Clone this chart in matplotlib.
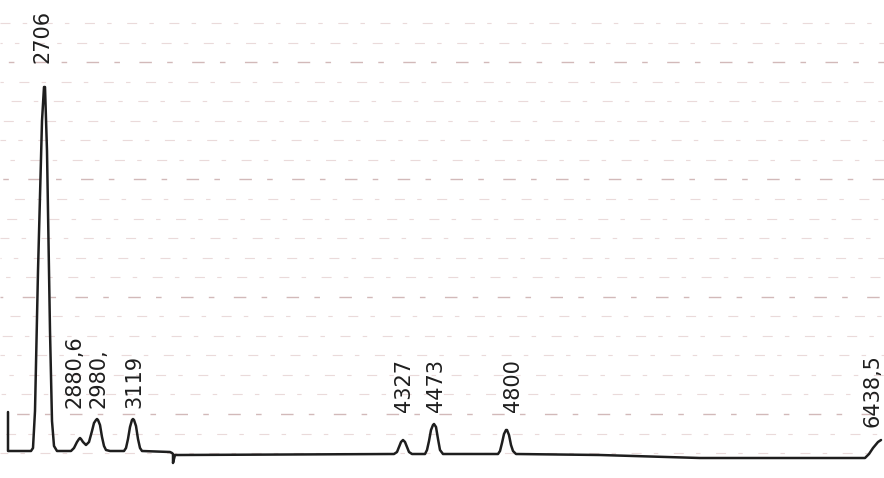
import matplotlib
matplotlib.use("Agg")
import matplotlib.pyplot as plt

# trace of the recorder pen: chart position (x) and signal above baseline
trace_x = [8, 8, 31, 33, 35, 38, 42, 44, 45, 47, 50, 52, 54, 57,
           71, 74, 77, 79, 80, 81, 83, 86,
           89, 92, 94, 96, 97, 98, 100, 102, 104, 106, 110,
           124, 126, 128, 130, 132, 133, 134, 136, 138, 140, 142, 170,
           172, 173, 173, 175, 180,
           394, 397, 399, 401, 403, 405, 407, 409, 412,
           425, 427, 429, 431, 433, 434, 436, 438, 440, 443,
           498, 500, 502, 504, 506, 507, 509, 511, 513, 516,
           600, 700, 865, 869, 873, 878, 881]
trace_y = [39, 0, 0, 3, 40, 180, 330, 364, 364, 300, 120, 30, 5, 0,
           0, 3, 9, 12, 13, 12, 9, 6,
           9, 20, 28, 31, 32, 31, 26, 14, 5, 1, 0,
           0, 3, 12, 24, 31, 32, 31, 25, 12, 3, 0, -1,
           -2, -3, -12, -4, -4,
           -3, -1, 4, 9, 11, 9, 4, -1, -3,
           -3, 1, 10, 21, 26, 27, 24, 12, 1, -3,
           -3, 0, 8, 17, 21, 21, 16, 6, 0, -3,
           -4, -7, -7, -3, 3, 9, 11]

# peak labels and where they are written
peak_labels = ["2706", "2880,6", "2980,", "3119", "4327", "4473", "4800", "6438,5"]
label_x = [43, 75, 98, 134, 404, 436, 513, 873]
label_y = [388, 43, 43, 43, 39, 39, 39, 24]

fig = plt.figure(figsize=(8.84, 4.78), dpi=100)
ax = fig.add_axes([0, 0, 1, 1])
ax.set_xlim(0, 884)
ax.set_ylim(-27, 451)
ax.axis("off")

# chart paper ruling
for k in range(23):
    gy = 451 - (23 + 19.55 * k)
    strong = (k - 2) % 6 == 0
    ax.axhline(gy, color="#d2b9b9" if strong else "#eadada",
               lw=1.0 if strong else 0.8,
               linestyle=(k * 7, (9, 11, 4, 14)), zorder=0)

ax.plot(trace_x, trace_y, color="#1e1e1e", lw=1.8,
        solid_joinstyle="round", solid_capstyle="round", zorder=2)

for lab, lx, ly in zip(peak_labels, label_x, label_y):
    ax.text(lx, ly, lab, rotation=90, ha="center", va="bottom",
            fontsize=15, color="#1e1e1e", family="DejaVu Sans", zorder=3)

fig.savefig("out.png", dpi=100, facecolor="white")
